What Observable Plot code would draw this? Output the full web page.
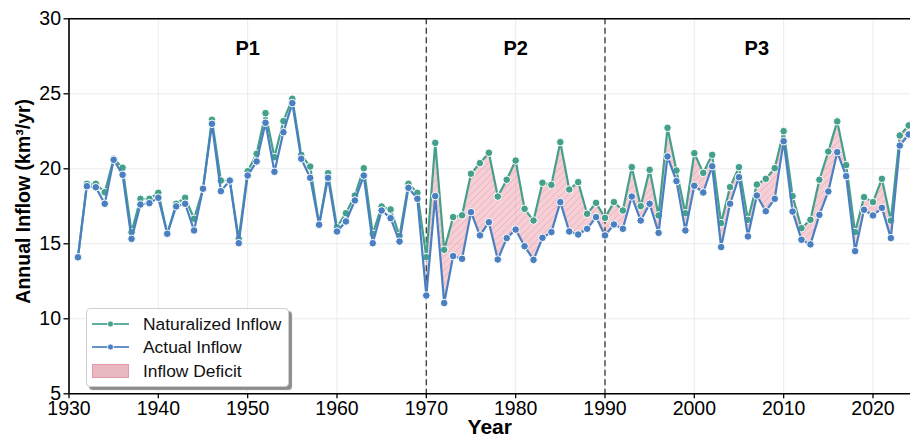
<!DOCTYPE html>
<html><head><meta charset="utf-8">
<script src="https://cdn.jsdelivr.net/npm/d3@7"></script>
<script src="https://cdn.jsdelivr.net/npm/@observablehq/plot@0.6"></script>
<style>
body{margin:0;background:#fff;}
#wrap{position:relative;width:910px;height:444px;font-family:"Liberation Sans",Arial,Helvetica,sans-serif;overflow:hidden;}
#legend{position:absolute;left:86px;top:308px;width:203px;height:79px;background:#fff;border:1px solid #cfcfcf;border-radius:4px;box-shadow:3px 3px 1px #8c8c8c;box-sizing:border-box;}
.lrow{position:absolute;left:0;height:20px;}
.lrow svg{position:absolute;left:5px;top:0;}
.lrow span{position:absolute;left:56px;top:0;line-height:20px;font-size:17.4px;color:#111;white-space:nowrap;}
</style>
</head><body>
<div id="wrap"></div>
<script>
const years = d3.range(1931, 2025);
const naturalized = [
14.1,19.0,19.0,18.44,20.67,20.07,15.77,18.0,18.0,18.4,
15.67,17.67,18.07,16.67,18.67,23.27,19.22,19.22,15.33,19.84,
21.0,23.71,20.78,23.18,24.67,20.93,20.15,16.27,19.71,16.11,
17.04,18.22,20.04,15.67,17.49,17.29,15.53,19.0,18.4,14.11,
21.73,14.6,16.78,16.9,19.67,20.38,21.07,18.15,19.27,20.55,
17.33,16.55,19.07,18.93,21.78,18.62,19.11,17.0,17.73,16.73,
17.78,17.22,20.11,17.51,19.93,16.89,22.73,19.89,17.04,21.04,
19.73,20.93,16.38,18.78,20.11,16.6,18.95,19.33,20.04,22.51,
18.18,16.04,16.6,19.27,21.15,23.16,20.25,15.78,18.11,17.78,
19.33,16.55,22.22,22.89];
const actual = [
14.1,18.84,18.77,17.67,20.6,19.6,15.33,17.62,17.71,18.07,
15.67,17.49,17.67,15.89,18.67,23.0,18.51,19.22,15.04,19.55,
20.49,23.07,19.8,22.44,24.38,20.67,19.4,16.27,19.4,15.82,
16.49,17.89,19.55,15.04,17.22,16.71,15.15,18.73,18.0,11.55,
18.18,11.05,14.18,14.0,17.11,15.56,16.44,13.95,15.38,15.95,
14.84,13.93,15.4,15.78,17.78,15.82,15.62,16.0,16.78,15.56,
16.29,16.0,18.15,16.55,17.67,15.73,20.82,19.18,15.89,18.87,
18.42,20.17,14.78,17.67,19.44,15.49,18.22,17.17,18.0,21.84,
17.15,15.27,14.96,16.93,18.49,21.11,19.51,14.51,17.27,16.89,
17.4,15.38,21.55,22.29];
const periodBreaks = [1970, 1990];
const periodLabels = ["P1", "P2", "P3"];
const periodLabelYears = [1950, 1980, 2007];
const deficitStart = 1970;
const xTicks = [1930,1940,1950,1960,1970,1980,1990,2000,2010,2020];
const yTicks = [5,10,15,20,25,30];
const seriesNames = ["Naturalized Inflow","Actual Inflow","Inflow Deficit"];

const GREEN = "#45a08b", BLUE = "#4a7fc1";
const rows = years.map((y,i)=>({year:y, natural:naturalized[i], actual:actual[i]}));
const deficitRows = rows.filter(d=>d.year>=deficitStart);
const labelRows = periodLabels.map((p,i)=>({label:p, year:periodLabelYears[i]}));
const FONT = "'Liberation Sans', Arial, Helvetica, sans-serif";

const chart = Plot.plot({
  width: 910, height: 444,
  marginLeft: 68.5, marginRight: 0, marginTop: 18.3, marginBottom: 50.7,
  style: {fontFamily: FONT, fontSize: "20px", color: "#000", background: "#fff", overflow: "visible"},
  x: {domain: [1930, 2024.2]},
  y: {domain: [5, 30]},
  marks: [
    Plot.gridX(xTicks, {stroke: "#e6e6e6", strokeOpacity: 1, strokeWidth: 0.8}),
    Plot.gridY(yTicks, {stroke: "#e6e6e6", strokeOpacity: 1, strokeWidth: 0.8}),
    Plot.areaY(deficitRows, {x: "year", y1: "actual", y2: "natural", fill: "url(#hatch)", curve: "linear"}),
    Plot.ruleX(periodBreaks, {stroke: "#444", strokeWidth: 1.4, strokeDasharray: "6,3.5"}),
    Plot.lineY(rows, {x: "year", y: "natural", stroke: GREEN, strokeWidth: 2.2}),
    Plot.dot(rows, {x: "year", y: "natural", fill: GREEN, stroke: "#fff", strokeWidth: 1, r: 3.8}),
    Plot.lineY(rows, {x: "year", y: "actual", stroke: BLUE, strokeWidth: 2.2}),
    Plot.dot(rows, {x: "year", y: "actual", fill: BLUE, stroke: "#fff", strokeWidth: 1, r: 3.8}),
    Plot.ruleY([5], {stroke: "#000", strokeWidth: 1.6}),
    Plot.ruleY([30], {stroke: "#000", strokeWidth: 1.6}),
    Plot.ruleX([1930], {stroke: "#000", strokeWidth: 1.6}),
    Plot.axisX(xTicks, {tickSize: 5, tickPadding: 2, tickFormat: d => String(d), label: null, fontSize: 20, stroke: "#000", strokeWidth: 1.3}),
    Plot.axisY(yTicks, {tickSize: 5, tickPadding: 3, label: null, fontSize: 20, stroke: "#000", strokeWidth: 1.3}),
    Plot.text(labelRows, {x: "year", y: () => 28, text: "label", fontSize: 20, fontWeight: "bold", fill: "#000"}),
    Plot.text(["Year"], {frameAnchor: "bottom", dy: 40, fontSize: 21, fontWeight: "bold", fill: "#000"}),
    Plot.text(["Annual Inflow (km³/yr)"], {frameAnchor: "left", textAnchor: "middle", dx: -45.5, dy: -5, rotate: -90, fontSize: 19.5, fontWeight: "bold", fill: "#000"})
  ]
});

// force tick label font size
chart.querySelectorAll('g[aria-label="x-axis tick label"], g[aria-label="y-axis tick label"]').forEach(g => {
  g.setAttribute("font-size", "19.5");
  g.style.fontSize = "19.5px";
  g.querySelectorAll("text").forEach(t => { t.style.fontSize = "19.5px"; });
});

// hatch pattern defs
const ns = "http://www.w3.org/2000/svg";
const defs = document.createElementNS(ns, "defs");
defs.innerHTML = `<pattern id="hatch" patternUnits="userSpaceOnUse" width="7" height="7">
  <rect width="7" height="7" fill="rgba(230,140,156,0.42)"></rect>
  <path d="M-1,1 l2,-2 M0,7 l7,-7 M6,8 l2,-2" stroke="rgba(214,110,130,0.35)" stroke-width="0.8"></path>
</pattern>`;
chart.insertBefore(defs, chart.firstChild);

const wrap = document.getElementById("wrap");
wrap.appendChild(chart);

// legend
const legend = document.createElement("div");
legend.id = "legend";
const glyphs = [
  `<svg width="40" height="20"><line x1="0" y1="10" x2="37" y2="10" stroke="${GREEN}" stroke-width="2" opacity="0.85"/><circle cx="18.5" cy="10" r="3" fill="${GREEN}" stroke="#fff" stroke-width="0.8"/></svg>`,
  `<svg width="40" height="20"><line x1="0" y1="10" x2="37" y2="10" stroke="${BLUE}" stroke-width="2" opacity="0.85"/><circle cx="18.5" cy="10" r="3" fill="${BLUE}" stroke="#fff" stroke-width="0.8"/></svg>`,
  `<svg width="40" height="20"><rect x="0.5" y="3.5" width="36" height="13" fill="#eab8c1" stroke="#e29aa8" stroke-width="1"/></svg>`
];
const tops = [4.5, 28, 51.5];
seriesNames.forEach((name,i)=>{
  const r = document.createElement("div");
  r.className = "lrow";
  r.style.top = tops[i] + "px";
  r.innerHTML = glyphs[i] + `<span>${name}</span>`;
  legend.appendChild(r);
});
wrap.appendChild(legend);
</script>
</body></html>
